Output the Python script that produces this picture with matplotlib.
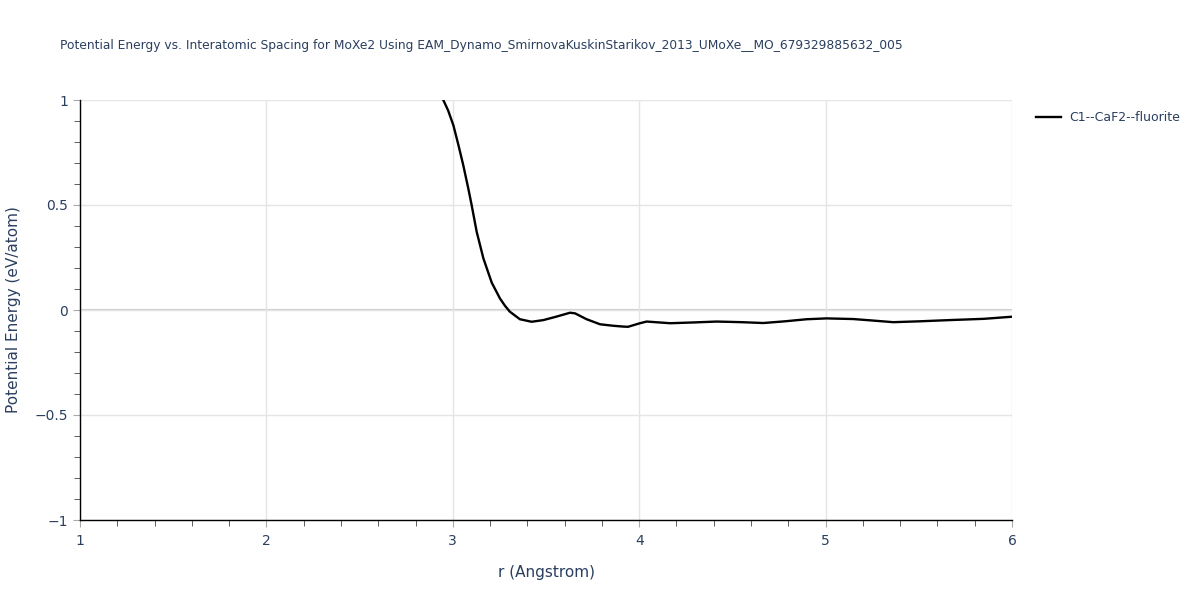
import matplotlib.pyplot as plt
from matplotlib.ticker import MultipleLocator, FuncFormatter

# values
r = [2.949, 2.975, 3.003, 3.030, 3.056, 3.083, 3.101, 3.128, 3.164, 3.209, 3.253, 3.28,
     3.306, 3.36, 3.423, 3.486, 3.55, 3.629, 3.656, 3.718, 3.79, 3.86, 3.915, 3.94,
     4.004, 4.04, 4.166, 4.3, 4.416, 4.55, 4.666, 4.78, 4.898, 5.005, 5.148, 5.25,
     5.363, 5.5, 5.667, 5.85, 6.0]
energy = [1.0, 0.95, 0.88, 0.786, 0.69, 0.579, 0.50, 0.373, 0.246, 0.13, 0.055, 0.02,
          -0.008, -0.044, -0.056, -0.048, -0.033, -0.013, -0.016, -0.044, -0.068, -0.075, -0.079, -0.08,
          -0.063, -0.055, -0.063, -0.059, -0.055, -0.058, -0.062, -0.054, -0.044, -0.040, -0.043, -0.050,
          -0.058, -0.054, -0.048, -0.042, -0.032]
series_name = "C1--CaF2--fluorite"
title = "Potential Energy vs. Interatomic Spacing for MoXe2 Using EAM_Dynamo_SmirnovaKuskinStarikov_2013_UMoXe__MO_679329885632_005"

text_col = "#2a3f5f"
grid_col = "#e5e5e5"

fig = plt.figure(figsize=(12, 6), dpi=100)
ax = fig.add_axes([80 / 1200, 80 / 600, 932 / 1200, 420 / 600])

ax.plot(r, energy, color="black", lw=1.7, label=series_name, zorder=3,
        solid_joinstyle="round")

ax.set_xlim(1, 6)
ax.set_ylim(-1, 1)
ax.xaxis.set_major_locator(MultipleLocator(1))
ax.xaxis.set_minor_locator(MultipleLocator(0.2))
ax.yaxis.set_major_locator(MultipleLocator(0.5))
ax.yaxis.set_minor_locator(MultipleLocator(0.1))
ax.yaxis.set_major_formatter(FuncFormatter(lambda v, p: "0" if v == 0 else f"{v:g}".replace("-", "\u2212")))

ax.grid(True, which="major", color=grid_col, lw=1, zorder=0)
ax.axhline(0, color="#cccccc", lw=1.5, zorder=1)
for s in ["top", "right"]:
    ax.spines[s].set_visible(False)
for s in ["left", "bottom"]:
    ax.spines[s].set_color("black")
    ax.spines[s].set_linewidth(1)

ax.tick_params(which="major", length=5, color="#aaaaaa", labelcolor=text_col, labelsize=10)
ax.tick_params(which="minor", length=4, color="#444444")
ax.tick_params(axis="x", which="major", pad=5)

ax.set_xlabel("r (Angstrom)", color=text_col, fontsize=11, labelpad=12)
ax.set_ylabel("Potential Energy (eV/atom)", color=text_col, fontsize=11, labelpad=10)

fig.text(60 / 1200, 1 - 45 / 600, title, color=text_col, fontsize=8.85, va="center", ha="left")

ax.legend(loc="upper left", bbox_to_anchor=(1.014, 1.0), frameon=False,
          labelcolor=text_col, fontsize=9, handlelength=2.0, handletextpad=0.6)

fig.savefig("out.png", dpi=100)
